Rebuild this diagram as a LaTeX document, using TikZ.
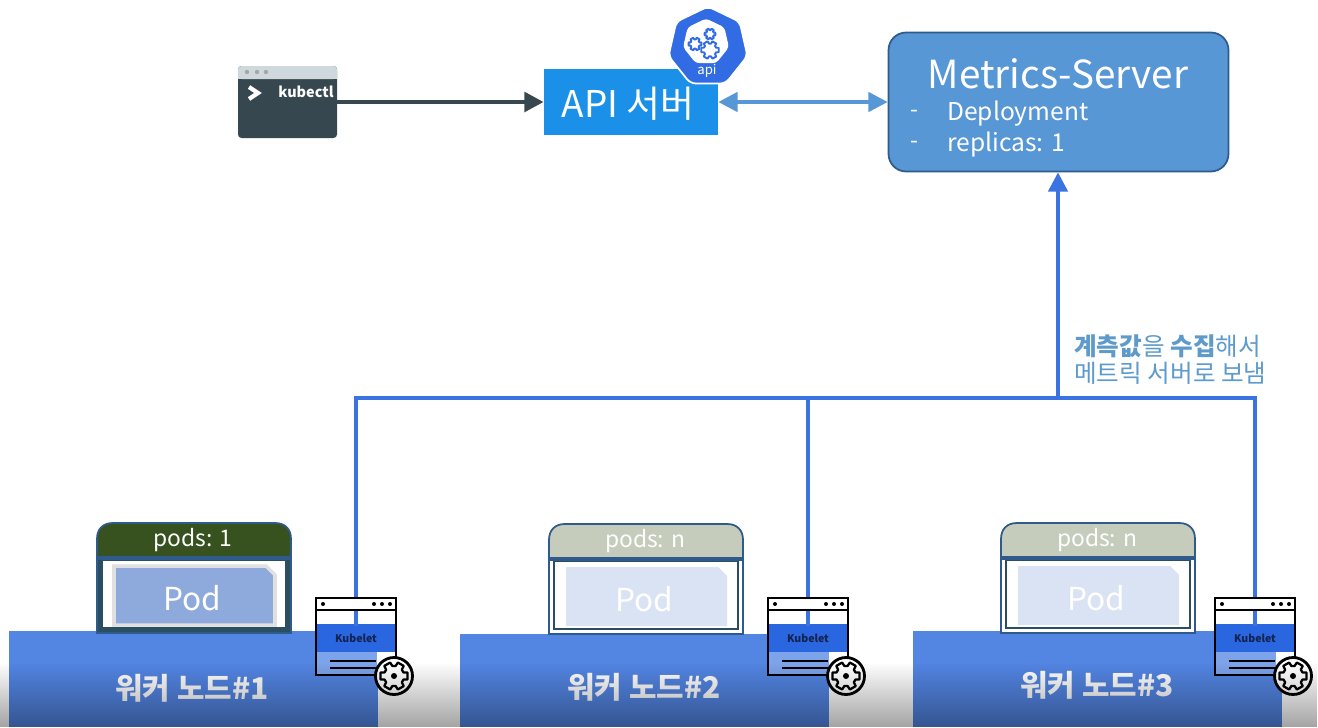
\documentclass[tikz,border=0pt]{standalone}
\usepackage{fontspec}
\setmainfont{Noto Sans CJK KR}
\usepackage{tikz}
\usetikzlibrary{calc,arrows.meta,positioning,fadings,shapes.geometric}
\definecolor{kc-dark}{HTML}{37474F}
\definecolor{kc-bar}{HTML}{CFD8DC}
\definecolor{api-blue}{HTML}{1A90E8}
\definecolor{hex-blue}{HTML}{326CE5}
\definecolor{ms-blue}{HTML}{5797D6}
\definecolor{link-blue}{HTML}{3B73E0}
\definecolor{note-blue}{HTML}{5E9BCB}
\definecolor{node-blue}{HTML}{5385E3}
\definecolor{pod-green}{HTML}{37511F}
\definecolor{pod-sage}{HTML}{C5CCBC}
\definecolor{pod-edge}{HTML}{2F5B8C}
\definecolor{pod-frame}{HTML}{2B4F60}
\definecolor{pod-on}{HTML}{8EA9DB}
\definecolor{pod-off}{HTML}{DAE3F3}
\definecolor{kube-blue}{HTML}{2A66E0}
\definecolor{kube-pale}{HTML}{7DA3EA}
\definecolor{kube-text}{HTML}{14234F}

\tikzset{
    worker/.style={fill=node-blue, inner sep=0pt},
    workerlabel/.style={text=white, font=\fontsize{17}{17}\selectfont\bfseries},
    podlabel/.style={text=white, font=\fontsize{13}{13}\selectfont},
    link/.style={draw=link-blue, line width=2.2pt, line cap=rect},
    upHead/.style={-{Triangle[length=11pt,width=11pt]}},
}
% a cog outline: x, y, outer radius, line width
\newcommand{\cog}[4]{
    \coordinate (cogc) at (#1,#2);
    \draw[line width=#4, line join=round] (cogc) +(-14:#3)
        \foreach \a in {0,60,...,300} { -- +(\a-14:#3) -- +(\a+14:#3) -- +(\a+21:.72*#3) -- +(\a+39:.72*#3) } -- cycle;
}
% one replica set sitting on a worker: left x, top y, header, pod style, count, name, frame
\newcommand{\podset}[7]{
    \fill[#7] (#1,#2+34) rectangle (#1+194,#2+110);
    \draw[pod-edge, line width=1.4pt] (#1,#2+34) rectangle (#1+194,#2+110);
    \draw[pod-frame, line width=1pt, fill=white] (#1+5,#2+37) rectangle (#1+189,#2+105);
    \draw[pod-edge, fill=#3, line width=1pt] (#1,#2+34) -- (#1,#2+16) .. controls (#1,#2+6) and (#1+6,#2) .. (#1+16,#2)
        -- (#1+178,#2) .. controls (#1+188,#2) and (#1+194,#2+6) .. (#1+194,#2+16) -- (#1+194,#2+34) -- cycle;
    \draw[pod-edge, line width=2.2pt] (#1,#2+35) -- (#1+194,#2+35);
    \path[#4] (#1+17,#2+43) -- (#1+169,#2+43) -- (#1+178,#2+52) -- (#1+178,#2+102) -- (#1+17,#2+102) -- cycle;
    \node[podlabel] (#6h) at (#1+96,#2+17) {pods: #5};
    \node[text=white, font=\fontsize{18}{18}\selectfont] (#6p) at (#1+95,#2+75) {Pod};
}
% kubelet window: left x, top y, name, bus coordinate
\newcommand{\kubelet}[4]{
    \fill[white] (#1,#2) rectangle (#1+80,#2+77);
    \fill[kube-pale] (#1+1,#2+54) rectangle (#1+61,#2+77);
    \node[fill=kube-blue, text=kube-text, inner sep=0pt, minimum width=1.58cm, minimum height=.56cm,
        font=\fontsize{6}{6}\selectfont\bfseries] (#3) at (#1+40,#2+40) {Kubelet};
    \draw[link] (#4) -- (#3.north);
    \fill[white] (#1,#2) rectangle (#1+80,#2+12);
    \draw[black, line width=1.6pt] (#1,#2) rectangle (#1+80,#2+77);
    \draw[black, line width=1.6pt] (#1,#2+12) -- (#1+80,#2+12);
    \fill[black] (#1+7,#2+6) circle (2) (#1+58,#2+6) circle (2) (#1+66,#2+6) circle (2) (#1+74,#2+6) circle (2);
    \draw[black, line width=1.4pt] (#1+14,#2+63) -- (#1+60,#2+63) (#1+14,#2+70) -- (#1+60,#2+70);
    \draw[black, line width=1.6pt, fill=white] (#1+78,#2+78) circle (18.5);
    \cog{#1+78}{#2+78}{14}{1.3pt}
    \fill[black] (#1+78,#2+78) circle (3);
}

\begin{document}
\begin{tikzpicture}[x=0.02cm, y=-0.02cm]
    \useasboundingbox (0,0) rectangle (1318,727);
    \fill[white] (0,0) rectangle (1318,727);

    % kubectl window
    \fill[kc-dark, rounded corners=2pt] (238,66) rectangle (337,138);
    \fill[kc-bar, rounded corners=2pt] (238,66) rectangle (337,79);
    \fill[kc-bar] (238,72) rectangle (337,79);
    \foreach \x in {247,257,266}
        \fill[gray!70] (\x,72) circle (2.2);
    \draw[white, line width=2.4pt] (249,87) -- (258,93) -- (249,99);
    \node[text=white, font=\fontsize{8.2}{8.2}\selectfont\bfseries] (kctl) at (306,92) {kubectl};
    \coordinate (kctlout) at (337,102);

    % api server
    \node[fill=api-blue, minimum width=3.48cm, minimum height=1.32cm, inner sep=0pt] (api) at (631,102) {};
    \node[text=white, font=\fontsize{21}{21}\selectfont, inner sep=0pt] (apit) at (628,104) {API 서버};
    \node[regular polygon, regular polygon sides=7, fill=hex-blue, draw=white, line width=1pt, rounded corners=3pt, minimum size=1.62cm, inner sep=0pt] (hex) at (708,47) {};
    \node[regular polygon, regular polygon sides=7, fill=white, rounded corners=2pt, minimum size=.94cm, inner sep=0pt] (hexin) at (706,42) {};
    \node[text=white, font=\fontsize{7.5}{7.5}\selectfont] (hextxt) at (707,71) {api};
    \begin{scope}[hex-blue]
        \cog{695}{44}{6.5}{1.1pt}
        \cog{710}{34}{5.5}{1.1pt}
        \cog{710}{50}{9}{1.1pt}
    \end{scope}

    % metrics server
    \node[fill=ms-blue, draw=pod-edge, line width=1pt, rounded corners=10pt, minimum width=6.8cm, minimum height=2.78cm] (ms) at (1058.5,102) {};
    \node[text=white, font=\fontsize{22}{22}\selectfont] (mstitle) at (1058,74) {Metrics-Server};
    \node[text=white, anchor=west, inner sep=0pt, font=\fontsize{14}{14}\selectfont] (msa) at (947,114) {Deployment};
    \node[text=white, anchor=west, inner sep=0pt, font=\fontsize{14}{14}\selectfont] (msb) at (947,145) {replicas: 1};
    \node[text=white, font=\fontsize{13}{13}\selectfont] (msda) at (914,114) {-};
    \node[text=white, font=\fontsize{13}{13}\selectfont] (msdb) at (914,145) {-};

    \draw[-{Triangle[length=11pt,width=11pt]}, kc-dark, line width=2.6pt] (kctlout) -- (api.west);
    \draw[{Triangle[length=11pt,width=11pt]}-{Triangle[length=11pt,width=11pt]}, ms-blue, line width=2.2pt] (api.east) -- (ms.west |- api.east);

    % worker nodes
    \node[worker, anchor=north west, minimum width=7.38cm, minimum height=1.92cm] (w1) at (9,631) {};
    \node[worker, anchor=north west, minimum width=7.38cm, minimum height=1.86cm] (w2) at (460,634) {};
    \node[worker, anchor=north west, minimum width=7.38cm, minimum height=1.92cm] (w3) at (913,631) {};
    \node[workerlabel] (w1t) at (192,688) {워커 노드\#1};
    \node[workerlabel] (w2t) at (644,687) {워커 노드\#2};
    \node[workerlabel] (w3t) at (1097,685) {워커 노드\#3};

    % pods
    \podset{97}{523}{pod-green}{fill=pod-on, draw=black!12, line width=2pt}{1}{pa}{pod-frame}
    \podset{549}{524}{pod-sage}{fill=pod-off}{n}{pb}{white}
    \podset{1001}{523}{pod-sage}{fill=pod-off}{n}{pc}{white}

    % links
    \coordinate (busa) at (356,398);
    \coordinate (busb) at (1255,398);
    \coordinate (busc) at (808,398);
    \coordinate (busd) at (1058,398);
    \draw[link] (busa) -- (busb);
    \draw[link, line cap=butt, upHead] (busd) -- (ms.south -| busd);

    % kubelets
    \kubelet{316}{598}{ka}{busa}
    \kubelet{768}{598}{kb}{busc}
    \kubelet{1215}{598}{kc}{busb}

    \node[text=note-blue, anchor=west, inner sep=0pt, font=\fontsize{14}{14}\selectfont] (notea) at (1074,346) {\textbf{계측값}을 \textbf{수집}해서};
    \node[text=note-blue, anchor=west, inner sep=0pt, font=\fontsize{14}{14}\selectfont] (noteb) at (1074,373) {메트릭 서버로 보냄};

    % dark band along the bottom edge
    \fill[black, fill opacity=.36, path fading=north] (0,662) rectangle (1318,727);
\end{tikzpicture}
\end{document}
